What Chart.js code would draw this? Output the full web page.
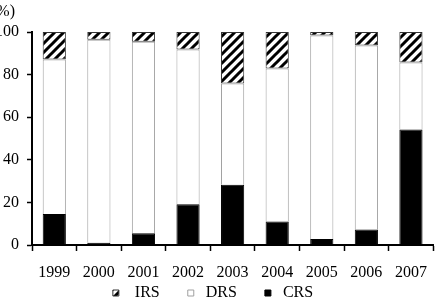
<!DOCTYPE html>
<html>
<head>
<meta charset="utf-8">
<script src="https://cdn.jsdelivr.net/npm/chart.js@4.4.1/dist/chart.umd.min.js"></script>
<style>
  html, body { margin: 0; padding: 0; background: #fff; overflow: hidden; }
  #wrap { position: relative; width: 439px; height: 304px; overflow: hidden; }
  #chart { position: absolute; left: -12px; top: 0; }
</style>
</head>
<body>
<div id="wrap"><canvas id="chart" width="451" height="304"></canvas></div>
<script>
const years = ['1999', '2000', '2001', '2002', '2003', '2004', '2005', '2006', '2007'];
const crs = [14.6, 1.0, 5.5, 19.1, 28.3, 11.0, 2.8, 7.3, 54.2];
const drs = [72.5, 95.4, 89.9, 72.7, 47.5, 71.9, 95.6, 86.4, 31.5];
const irs = [12.9, 3.6, 4.6, 8.2, 24.2, 17.1, 1.6, 6.3, 14.3];
const yTicks = [0, 20, 40, 60, 80, 100];

// diagonal hatch for IRS
function makeHatch() {
    const c = document.createElement('canvas');
    const s = 9;
    c.width = s; c.height = s;
    const g = c.getContext('2d');
    g.fillStyle = '#fff';
    g.fillRect(0, 0, s, s);
    g.strokeStyle = '#000';
    g.lineWidth = 3;
    g.beginPath();
    g.moveTo(-1, s + 1); g.lineTo(s + 1, -1);
    g.moveTo(-2, 2); g.lineTo(2, -2);
    g.moveTo(s - 2, s + 2); g.lineTo(s + 2, s - 2);
    g.stroke();
    return g.createPattern(c, 'repeat');
}
const ctx = document.getElementById('chart').getContext('2d');
const hatch = makeHatch();

const serif = "'Liberation Serif', 'Times New Roman', serif";

// "(%)" label above the y axis
const unitLabel = {
    id: 'unitLabel',
    afterDraw(chart) {
        const c = chart.ctx;
        c.save();
        c.font = '16px ' + serif;
        c.fillStyle = '#000';
        c.textAlign = 'right';
        c.textBaseline = 'middle';
        c.fillText('(%)', 27, 12);
        c.restore();
    }
};

new Chart(ctx, {
    type: 'bar',
    data: {
        labels: years,
        datasets: [
            {
                label: ' CRS',
                data: crs,
                backgroundColor: '#000',
                borderColor: '#000',
                borderWidth: 1
            },
            {
                label: ' DRS      ',
                data: drs,
                backgroundColor: '#fff',
                borderColor: '#a0a0a0',
                borderWidth: 1
            },
            {
                label: '  IRS      ',
                data: irs,
                backgroundColor: hatch,
                borderColor: '#333',
                borderWidth: 1,
                borderSkipped: false
            }
        ]
    },
    options: {
        responsive: false,
        animation: false,
        datasets: {
            bar: { categoryPercentage: 1, barPercentage: 0.52 }
        },
        layout: { padding: { top: 32, right: 1, left: 0, bottom: -7 } },
        plugins: {
            legend: {
                position: 'bottom',
                reverse: true,
                labels: {
                    boxWidth: 6,
                    boxHeight: 6,
                    padding: 4,
                    color: '#000',
                    font: { family: serif, size: 16 }
                }
            },
            tooltip: { enabled: false }
        },
        scales: {
            x: {
                stacked: true,
                grid: {
                    display: true,
                    drawOnChartArea: false,
                    drawTicks: true,
                    tickLength: 6,
                    tickColor: '#000',
                    tickWidth: 1.5,
                    offset: true
                },
                border: { display: true, color: '#000', width: 2 },
                ticks: {
                    color: '#000',
                    padding: 12,
                    maxRotation: 0,
                    font: { family: serif, size: 16 }
                },
                afterFit(scale) { scale.height = 36; }
            },
            y: {
                stacked: true,
                min: 0,
                max: 100,
                afterBuildTicks(scale) {
                    scale.ticks = yTicks.map(v => ({ value: v }));
                },
                grid: {
                    display: true,
                    drawOnChartArea: false,
                    drawTicks: true,
                    tickLength: 5,
                    tickColor: '#000',
                    tickWidth: 1.5
                },
                border: { display: true, color: '#000', width: 2 },
                ticks: {
                    color: '#000',
                    padding: 8,
                    font: { family: serif, size: 16 }
                },
                afterFit(scale) { scale.width = 44; }
            }
        }
    },
    plugins: [unitLabel]
});
</script>
</body>
</html>
